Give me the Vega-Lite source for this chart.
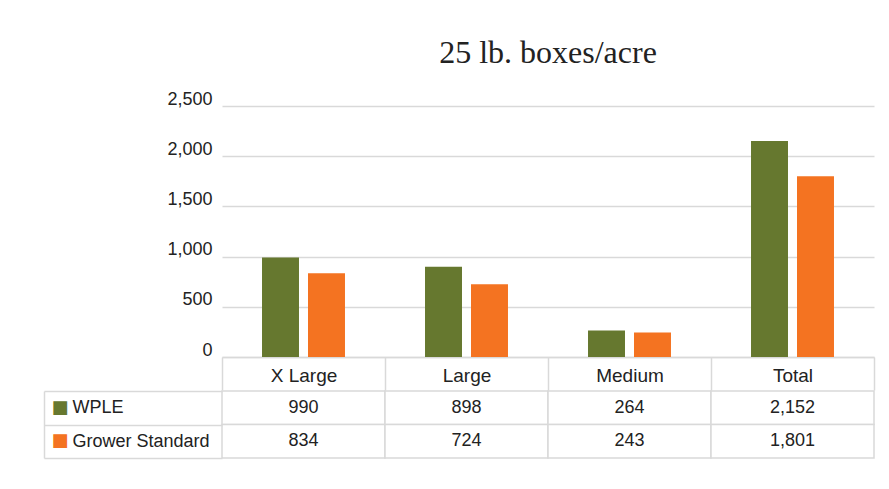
{
  "$schema": "https://vega.github.io/schema/vega-lite/v6.json",
  "padding": {"left": 43, "top": 37, "right": 10, "bottom": 10},
  "background": "white",
  "spacing": -10,
  "config": {"view": {"stroke": null}, "font": "Liberation Sans"},
  "data": {"values": [
    {"category": "X Large", "series": "WPLE", "value": 990},
    {"category": "X Large", "series": "Grower Standard", "value": 834},
    {"category": "Large", "series": "WPLE", "value": 898},
    {"category": "Large", "series": "Grower Standard", "value": 724},
    {"category": "Medium", "series": "WPLE", "value": 264},
    {"category": "Medium", "series": "Grower Standard", "value": 243},
    {"category": "Total", "series": "WPLE", "value": 2152},
    {"category": "Total", "series": "Grower Standard", "value": 1801}
  ]},
  "vconcat": [
    {
      "width": 652,
      "height": 251,
      "title": {"text": "25 lb. boxes/acre", "font": "Liberation Serif", "fontSize": 32, "fontWeight": "normal", "color": "#222222", "anchor": "middle", "offset": 20},
      "mark": {"type": "bar"},
      "encoding": {
        "x": {"field": "category", "type": "nominal", "sort": ["X Large", "Large", "Medium", "Total"],
          "scale": {"paddingInner": 0, "paddingOuter": 0},
          "axis": {"title": null, "labelAngle": 0, "domainColor": "#d9d9d9", "domainWidth": 1.5, "tickColor": "#d9d9d9", "tickWidth": 1.5, "tickSize": 33, "tickBand": "extent", "labelFontSize": 19, "labelColor": "#222222", "labelPadding": -15, "labelBaseline": "middle"}},
        "xOffset": {"field": "series", "type": "nominal", "scale": {"domain": ["WPLE", "Grower Standard"], "paddingInner": 0.196, "paddingOuter": 0.87}},
        "y": {"field": "value", "type": "quantitative", "scale": {"domain": [0, 2500]},
          "axis": {"title": null, "values": [0, 500, 1000, 1500, 2000, 2500], "format": ",.0f", "domain": false, "ticks": false, "gridColor": "#d9d9d9", "gridWidth": 1.5, "labelFontSize": 18, "labelPadding": 10, "labelColor": "#222222", "labelBaseline": "alphabetic", "labelOffset": -2}},
        "color": {"field": "series", "type": "nominal", "scale": {"domain": ["WPLE", "Grower Standard"], "range": ["#66782f", "#f47321"]}, "legend": null}
      }
    },
    {
      "width": 652,
      "height": 67,
      "layer": [
        {
          "mark": {"type": "rect", "fill": "white", "stroke": "#d9d9d9", "strokeWidth": 1.5},
          "encoding": {
            "x": {"field": "category", "type": "nominal", "sort": ["X Large", "Large", "Medium", "Total"], "scale": {"paddingInner": 0, "paddingOuter": 0}, "axis": null},
            "y": {"field": "series", "type": "nominal", "scale": {"domain": ["WPLE", "Grower Standard"], "paddingInner": 0, "paddingOuter": 0},
              "axis": {"orient": "left", "title": null, "offset": 178, "domainColor": "#d9d9d9", "domainWidth": 1.5, "tickSize": -178, "tickBand": "extent", "tickColor": "#d9d9d9", "tickWidth": 1.5, "labelAlign": "left", "labelPadding": 150, "labelFontSize": 18, "labelColor": "#222222", "labelBaseline": "middle"}}
          }
        },
        {
          "mark": {"type": "text", "fontSize": 18, "color": "#222222"},
          "encoding": {
            "x": {"field": "category", "type": "nominal", "sort": ["X Large", "Large", "Medium", "Total"], "axis": null},
            "y": {"field": "series", "type": "nominal",
              "axis": {"orient": "left", "title": null, "domain": false, "ticks": false, "labelExpr": "'■'", "labelFont": "DejaVu Sans", "labelFontSize": 18, "labelAlign": "left", "labelPadding": 171, "labelBaseline": "middle",
                "labelColor": {"condition": {"test": "datum.value === 'WPLE'", "value": "#66782f"}, "value": "#f47321"}}},
            "text": {"field": "value", "type": "quantitative", "format": ",.0f"}
          }
        }
      ],
      "resolve": {"axis": {"y": "independent"}}
    }
  ]
}
